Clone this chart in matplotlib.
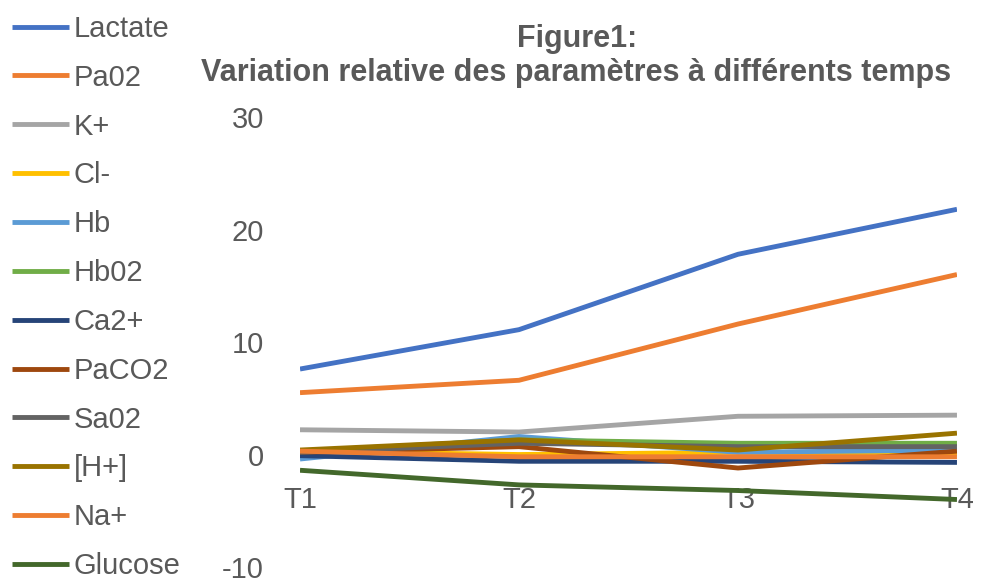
import matplotlib
matplotlib.use("Agg")
import matplotlib.pyplot as plt

# time points
temps = ["T1", "T2", "T3", "T4"]

# relative variation of each parameter
lactate = [7.6, 11.1, 17.8, 21.8]
pa02 = [5.5, 6.6, 11.6, 16.0]
k_plus = [2.2, 2.0, 3.4, 3.5]
cl_minus = [0.3, 0.0, 0.2, 0.1]
hb = [-0.4, 1.6, 0.2, 0.4]
hb02 = [0.3, 1.3, 1.0, 1.0]
ca2_plus = [-0.1, -0.6, -0.6, -0.7]
paco2 = [0.2, 0.7, -1.2, 0.3]
sa02 = [0.2, 1.0, 0.7, 0.7]
h_plus = [0.4, 1.3, 0.4, 1.9]
na_plus = [0.3, -0.2, -0.2, -0.2]
glucose = [-1.4, -2.7, -3.2, -4.0]

names = ["Lactate", "Pa02", "K+", "Cl-", "Hb", "Hb02", "Ca2+", "PaCO2",
         "Sa02", "[H+]", "Na+", "Glucose"]
series = [lactate, pa02, k_plus, cl_minus, hb, hb02, ca2_plus, paco2,
          sa02, h_plus, na_plus, glucose]
colors = ["#4472C4", "#ED7D31", "#A5A5A5", "#FFC000", "#5B9BD5", "#70AD47",
          "#264478", "#9E480E", "#636363", "#997300", "#ED7D31", "#43682B"]

txt = "#595959"
plt.rcParams['font.family'] = ['Liberation Sans', 'DejaVu Sans']
plt.rcParams['axes.unicode_minus'] = False

fig = plt.figure(figsize=(9.82, 5.78), dpi=100)
ax = fig.add_axes([0.3055, 0.019, 0.669, 0.7785])

x = range(len(temps))
lines = []
for name, vals, c in zip(names, series, colors):
    ln, = ax.plot(x, vals, color=c, lw=3.5, label=name, solid_capstyle='butt')
    lines.append(ln)

ax.set_xlim(0, 3)
ax.set_ylim(-10, 30)
ax.set_yticks([-10, 0, 10, 20, 30])
ax.set_xticks(list(x))
ax.set_xticklabels(temps)
for s in ax.spines.values():
    s.set_visible(False)
ax.spines['bottom'].set_position(('data', 0))
ax.tick_params(axis='both', length=0, labelsize=21, labelcolor=txt)
ax.tick_params(axis='x', pad=23)
ax.tick_params(axis='y', pad=26)
for lab in ax.get_xticklabels():
    lab.set_clip_on(False)

fig.text(0.588, 0.933, "Figure1:", ha='center', va='center', fontsize=22,
         fontweight='bold', color=txt)
fig.text(0.587, 0.873, "Variation relative des paramètres à différents temps",
         ha='center', va='center', fontsize=22, fontweight='bold', color=txt)

leg = fig.legend(handles=lines, loc='upper left', bbox_to_anchor=(0.005, 0.987),
                 frameon=False, fontsize=21, labelcolor=txt,
                 handlelength=1.95, handletextpad=0.15, labelspacing=0.715,
                 borderaxespad=0.0, borderpad=0.25)

fig.savefig("out.png", dpi=100)
